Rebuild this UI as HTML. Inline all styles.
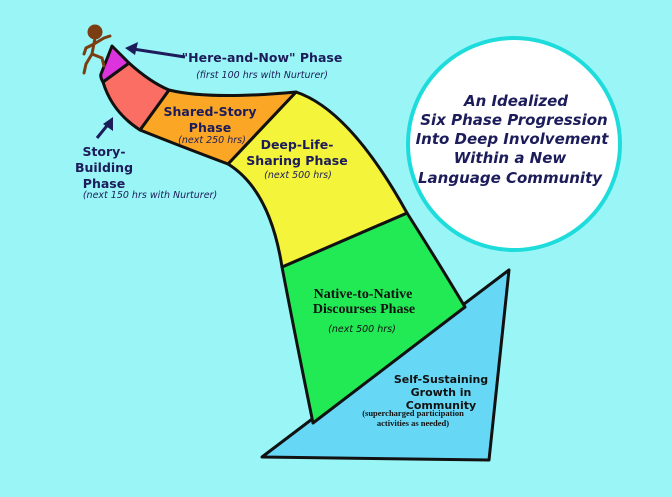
<!DOCTYPE html>
<html><head><meta charset="utf-8"><style>
html,body{margin:0;padding:0;background:#9af6f6;}
svg{display:block}
text{font-family:"DejaVu Sans","Liberation Sans",sans-serif;fill:#1c1c5a;text-anchor:middle}
text.serif{font-family:"Liberation Serif",serif;fill:#111}
text.blk{fill:#111}
</style></head><body>
<svg width="672" height="497" viewBox="0 0 672 497">
<rect width="672" height="497" fill="#9af6f6"/>
<circle cx="514" cy="144" r="106" fill="#fff" stroke="#1fdcdc" stroke-width="4"/>
<g stroke="#111" stroke-width="3" stroke-linejoin="round">
<polygon points="262,457 509,270 489,460" fill="#66d8f6"/>
<path d="M282,267 L407,213 Q440,265 465,307 L313,423 Q296,340 282,267 Z" fill="#22ea55"/>
<path d="M296,92 Q350,110 407,213 L282,267 Q270,190 228,164 Z" fill="#f4f43a"/>
<path d="M169,90 Q210,100 296,92 L228,164 Q180,146 140,130 Z" fill="#fba624"/>
<path d="M129,63 Q150,82 169,90 L140,130 Q112,112 103,82 Z" fill="#fb6e64"/>
<path d="M112,46 L129,63 L103,82 Q100,77 101,74 Z" fill="#dd33dd"/>
</g>
<g stroke="#7a3e12" stroke-width="3" fill="none" stroke-linecap="round">
<circle cx="95" cy="32" r="6" fill="#7a3e12"/>
<path d="M95,38 L92,54 L86,64 L84,73"/><path d="M92,54 L102,58 L104,66"/>
<path d="M94,44 L104,38 L110,36"/><path d="M94,44 L86,48 L84,54"/>
</g>
<g stroke="#1c1c5a" stroke-width="3">
<line x1="185" y1="57" x2="133" y2="49"/>
<line x1="97" y1="138" x2="110" y2="122"/>
</g>
<polygon points="125,48 138,42 135,55" fill="#1c1c5a"/>
<polygon points="113,117 113,131 103,124" fill="#1c1c5a"/>
<g font-weight="bold" font-size="12.5">
<text x="262" y="62">"Here-and-Now" Phase</text>
<text x="104" y="156">Story-</text>
<text x="104" y="172">Building</text>
<text x="104" y="188">Phase</text>
<text x="210" y="116">Shared-Story</text>
<text x="210" y="132">Phase</text>
<text x="297" y="149">Deep-Life-</text>
<text x="297" y="165">Sharing Phase</text>
<text class="blk" x="441" y="383" font-size="11">Self-Sustaining</text>
<text class="blk" x="441" y="396" font-size="11">Growth in</text>
<text class="blk" x="441" y="409" font-size="11">Community</text>
</g>
<g font-style="italic" font-size="9.5">
<text x="262" y="78">(first 100 hrs with Nurturer)</text>
<text x="150" y="198">(next 150 hrs with Nurturer)</text>
<text x="212" y="143">(next 250 hrs)</text>
<text x="298" y="178">(next 500 hrs)</text>
<text class="blk" x="362" y="332">(next 500 hrs)</text>
</g>
<text class="serif" x="363" y="298" font-weight="bold" font-size="14">Native-to-Native</text>
<text class="serif" x="364" y="313" font-weight="bold" font-size="14">Discourses Phase</text>
<text class="serif" x="413" y="416" font-weight="bold" font-size="8.5">(supercharged participation</text>
<text class="serif" x="413" y="426" font-weight="bold" font-size="8.5">activities as needed)</text>
<g font-style="italic" font-weight="bold" font-size="15">
<text x="516" y="106">An Idealized</text>
<text x="514" y="125">Six Phase Progression</text>
<text x="512" y="144">Into Deep Involvement</text>
<text x="510" y="163">Within a New</text>
<text x="510" y="183">Language Community</text>
</g>
</svg>
</body></html>
